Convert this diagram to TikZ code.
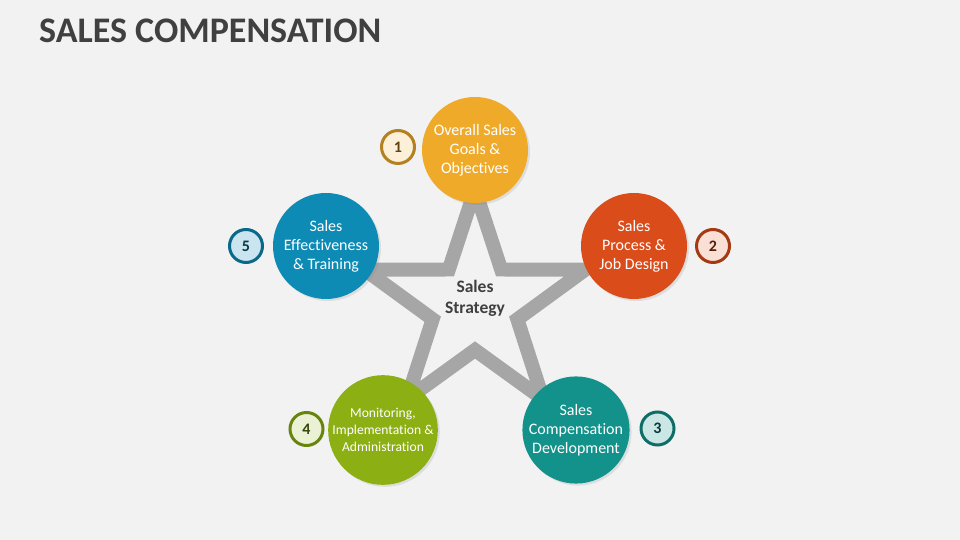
\documentclass[tikz,border=0pt]{standalone}
\usepackage{fontspec}
\setmainfont{Carlito}[Ligatures=NoCommon]
\usetikzlibrary{shadows}
\definecolor{bgcol}{HTML}{F2F2F2}
\definecolor{titlecol}{HTML}{404040}
\definecolor{starcol}{HTML}{A6A6A6}
\definecolor{goalcol}{HTML}{F0AA2A}
\definecolor{processcol}{HTML}{DB4C1B}
\definecolor{developcol}{HTML}{12928A}
\definecolor{monitorcol}{HTML}{8CAF14}
\definecolor{trainingcol}{HTML}{0E8BB5}
\begin{document}
\begin{tikzpicture}[x=1pt,y=1pt,
	topic/.style={circle, minimum size=106pt, inner sep=0pt, align=center, text=white,
		font=\fontsize{16}{19}\selectfont,
		drop shadow={shadow xshift=2pt, shadow yshift=-2pt, opacity=0.18}},
	badge/.style={circle, minimum size=33pt, inner sep=0pt, line width=3pt,
		font=\fontsize{16}{18}\selectfont\bfseries},
	starline/.style={starcol, line width=14pt, miter limit=10}]
	% Background
	\fill[bgcol] (0,0) rectangle (960,540);
	% Title
	\node[anchor=base west, inner sep=0pt, text=titlecol, font=\fontsize{36}{40}\selectfont\bfseries] (title) at (39,497) {SALES COMPENSATION};
	% Star
	\draw[starline, shift={(475,234.5)}] (90:116)
		\foreach \k in {0,...,4} { -- ({126+72*\k}:44.5) -- ({162+72*\k}:116) } -- cycle;
	\node[align=center, text=titlecol, font=\fontsize{17.5}{21}\selectfont\bfseries] (strategy) at (475,242) {Sales\\Strategy};
	% Topics
	\node[topic, fill=goalcol]     (goals)    at (475,390) {Overall Sales\\Goals \&\\Objectives};
	\node[topic, fill=processcol]  (process)  at (634,294) {Sales\\Process \&\\Job Design};
	\node[topic, fill=developcol]  (develop)  at (576,110) {Sales\\Compensation\\Development};
	\node[topic, fill=monitorcol, font=\fontsize{13.6}{16.7}\selectfont] (monitor) at (383,110) {Monitoring,\\Implementation \&\\Administration};
	\node[topic, fill=trainingcol] (training) at (326,294) {Sales\\Effectiveness\\\& Training};
	% Numbers
	\node[badge, draw=goalcol!75!black,     fill=goalcol!18!white,     text=goalcol!40!black]     (n1) at (398,393) {1};
	\node[badge, draw=processcol!75!black,  fill=processcol!18!white,  text=processcol!40!black]  (n2) at (713,294) {2};
	\node[badge, draw=developcol!75!black,  fill=developcol!22!white,  text=developcol!40!black]  (n3) at (657.5,111.5) {3};
	\node[badge, draw=monitorcol!75!black,  fill=monitorcol!18!white,  text=monitorcol!40!black]  (n4) at (306.5,111) {4};
	\node[badge, draw=trainingcol!75!black, fill=trainingcol!22!white, text=trainingcol!40!black] (n5) at (246,294) {5};
\end{tikzpicture}
\end{document}
